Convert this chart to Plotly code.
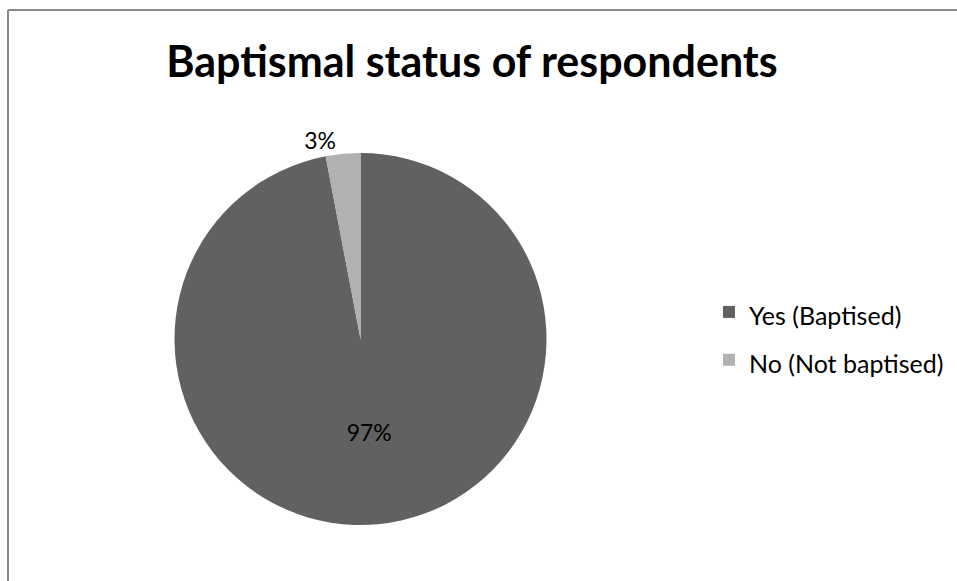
import plotly.graph_objects as go

labels = ["Yes (Baptised)", "No (Not baptised)"]
values = [97, 3]
text_labels = ["97%", "3%"]
colors = ["#616161", "#b1b1b1"]

W, H = 957, 581

# legend entries shown at 25px while the legend's own font (which sets the row pitch) is larger
legend_labels = [f"<span style='font-size:25px'>{l}</span>" for l in labels]

fig = go.Figure(go.Pie(
    labels=legend_labels,
    values=values,
    text=text_labels,
    customdata=labels,
    textinfo="text",
    textposition=["inside", "outside"],
    sort=False,
    direction="clockwise",
    rotation=0,
    marker=dict(colors=colors, line=dict(color="white", width=0)),
    textfont=dict(family="Lato", size=23, color="black"),
    insidetextfont=dict(family="Lato", size=23, color="black"),
    outsidetextfont=dict(family="Lato", size=23, color="black"),
    domain=dict(x=[174 / W, 547 / W], y=[1 - 525 / H, 1 - 153 / H]),
    showlegend=True,
    hovertemplate="%{customdata}: %{percent}<extra></extra>",
))

fig.update_layout(
    width=W, height=H,
    margin=dict(l=0, r=0, t=0, b=0),
    paper_bgcolor="white",
    plot_bgcolor="white",
    title=dict(
        text="<b>Baptismal status of respondents</b>",
        x=472 / W, xanchor="center",
        y=1 - 62 / H, yanchor="middle",
        font=dict(family="Lato", size=43, color="black"),
    ),
    legend=dict(
        x=709 / W, xanchor="left",
        y=1 - 336 / H, yanchor="middle",
        font=dict(family="Lato", size=34.5, color="black"),
        bgcolor="rgba(0,0,0,0)",
    ),
    shapes=[
        dict(type="line", xref="paper", yref="paper",
             x0=8 / W, x1=1, y0=1 - 10 / H, y1=1 - 10 / H,
             line=dict(color="#898989", width=2)),
        dict(type="line", xref="paper", yref="paper",
             x0=8 / W, x1=8 / W, y0=0, y1=1 - 10 / H,
             line=dict(color="#898989", width=2)),
    ],
)

fig.write_html(
    "out.html",
    config={"displayModeBar": False},
    post_script="document.documentElement.style.overflow='hidden';"
                "document.body.style.margin='0';"
                "document.body.style.overflow='hidden';",
)
